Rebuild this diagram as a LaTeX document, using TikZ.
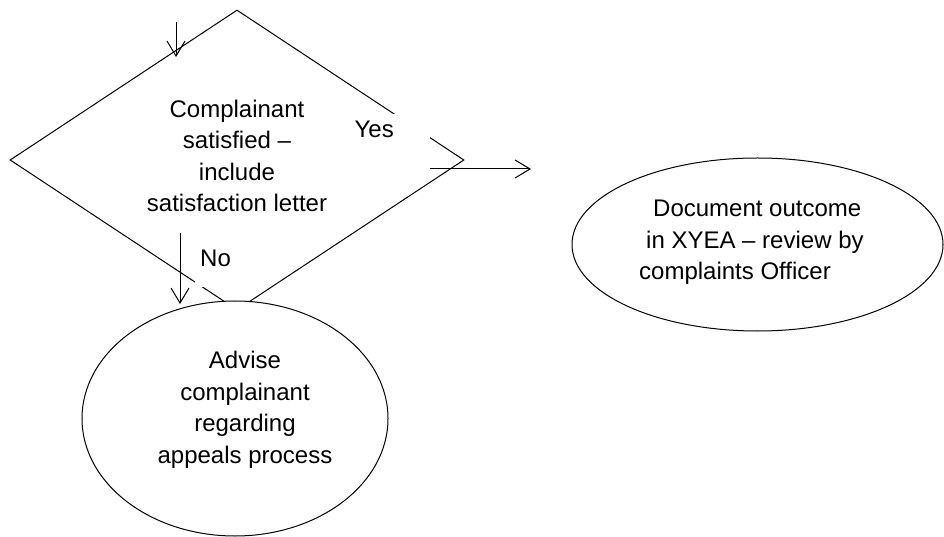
\documentclass[tikz,border=0pt]{standalone}
\usepackage{fontspec}
\setmainfont{Liberation Sans}
\usetikzlibrary{shapes.geometric,arrows.meta}
\begin{document}
\begin{tikzpicture}[x=1bp,y=-1bp,
  shapeline/.style={draw=black,line width=1bp},
  txt/.style={font=\fontsize{24bp}{31.5bp}\selectfont, align=center, inner sep=0},
  arr/.style={draw=black,line width=1bp,-{Straight Barb[length=15bp,width=18bp]}},
]
\fill[white] (0,0) rectangle (944,537);
\useasboundingbox (0,0) rectangle (944,537);
% decision diamond
\node[shapeline, diamond, minimum width=454bp, minimum height=300bp, inner sep=0] (dec) at (237,160) {};
% labels with white boxes
\node[txt, fill=white, inner xsep=5bp, inner ysep=0, text height=20bp, text depth=20bp, anchor=base west] (no) at (195,267) {No};
\node[txt, fill=white, inner xsep=36bp, inner ysep=0, text height=24.3bp, text depth=37bp, anchor=base east] (yes) at (430,138) {Yes};
% ellipses
\node[shapeline, ellipse, fill=white, minimum width=306bp, minimum height=235bp, inner sep=0] (adv) at (235,418.5) {};
\node[shapeline, ellipse, fill=white, minimum width=371bp, minimum height=173bp, inner sep=0] (doc) at (757.5,244.5) {};
% texts
\node[txt] (dectext) at (237,156) {Complainant\\satisfied –\\include\\satisfaction letter};
\node[txt] (advtext) at (245,410) {Advise\\complainant\\regarding\\appeals process};
\node[txt, align=left, anchor=west] (doctext) at (639,242.4) {\hspace*{14bp}Document outcome\\\hspace*{7bp}in XYEA – review by\\complaints Officer};
% connectors
\coordinate (ins) at (176,22);
\coordinate (ine) at (176,57);
\draw[arr] (ins) -- (ine);
\coordinate (nos) at (180,233);
\coordinate (noe) at (180,304);
\draw[arr] (nos) -- (noe);
\coordinate (yese) at (531,169);
\draw[arr] (yes.east |- yese) -- (yese);
\end{tikzpicture}
\end{document}
